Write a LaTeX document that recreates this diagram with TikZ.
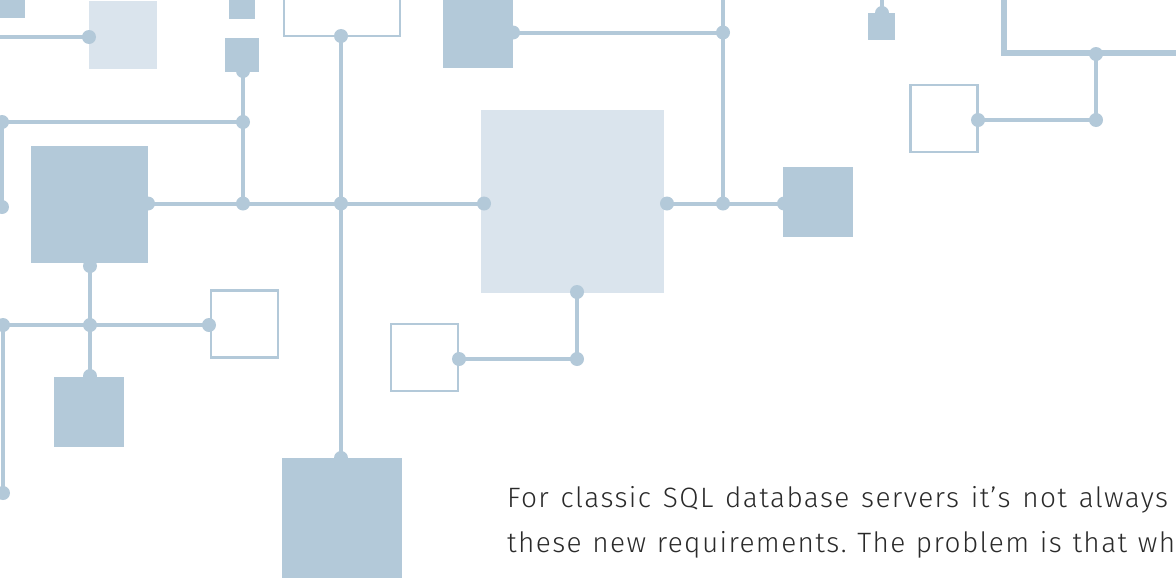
\documentclass[tikz,border=0pt]{standalone}
\usepackage{fontspec}
\newfontfamily\bodyfont{Fira Sans Light}[LetterSpace=5]
\definecolor{wire}{HTML}{B3C9D9}
\definecolor{pale}{HTML}{DAE4ED}
\definecolor{ink}{HTML}{2A2A2A}
\pgfdeclarelayer{wires}
\pgfsetlayers{wires,main}
\tikzset{
  solidbox/.style={rectangle, fill=wire, draw=none, inner sep=0pt, outer sep=0pt, minimum size=#1},
  palebox/.style={rectangle, fill=pale, draw=none, inner sep=0pt, outer sep=0pt, minimum size=#1},
  openbox/.style={rectangle, draw=wire, line width=2.5pt, inner sep=0pt, outer sep=0pt, minimum size=#1},
  heavybox/.style={rectangle, draw=wire, line width=6pt, inner sep=0pt, outer sep=0pt, minimum size=#1},
  wire/.style={draw=wire, line width=4pt},
  joint/.style={circle, fill=wire, draw=none, inner sep=0pt, minimum size=14pt},
  bodytext/.style={anchor=base west, inner sep=0pt, text=ink, font=\bodyfont\fontsize{28}{32}\selectfont\frenchspacing}
}
\begin{document}
\begin{tikzpicture}[x=1pt, y=-1pt]
\useasboundingbox (0,0) rectangle (1176,584);

% boxes
\node[solidbox=34pt] (s1) at (8,1) {};
\node[palebox=68pt] (s2) at (123,35) {};
\node[solidbox=26pt] (s3) at (242,6) {};
\node[solidbox=34pt] (s4) at (242,55) {};
\node[openbox=116pt] (s5) at (342,-22) {};
\node[solidbox=70pt] (s6) at (478,33) {};
\node[solidbox=117pt] (s7) at (89.5,204.5) {};
\node[openbox=67pt] (s8) at (244.5,324) {};
\node[solidbox=70pt] (s9) at (89,412) {};
\node[solidbox=120pt] (s10) at (342,518) {};
\node[openbox=67pt] (s11) at (424.5,357.5) {};
\node[palebox=183pt] (s12) at (572.5,201.5) {};
\node[solidbox=70pt] (s13) at (818,202) {};
\node[solidbox=27pt] (s14) at (881.5,26.5) {};
\node[openbox=67pt] (s15) at (944,118.5) {};
\node[heavybox=200pt] (s16) at (1103.5,-47) {};

% joints
\node[joint] (j1) at (89,37) {};
\node[joint] (j2) at (243,71) {};
\node[joint] (j3) at (243,122) {};
\node[joint] (j4) at (2,122) {};
\node[joint] (j5) at (2,207) {};
\node[joint] (j6) at (148,203.5) {};
\node[joint] (j7) at (243,203.5) {};
\node[joint] (j8) at (341,203.5) {};
\node[joint] (j9) at (484,203.5) {};
\node[joint] (j10) at (341,36) {};
\node[joint] (j11) at (341,458) {};
\node[joint] (j12) at (90,266) {};
\node[joint] (j13) at (90,325) {};
\node[joint] (j14) at (90,376) {};
\node[joint] (j15) at (3,325) {};
\node[joint] (j16) at (209,325) {};
\node[joint] (j17) at (3,493) {};
\node[joint] (j18) at (459,359) {};
\node[joint] (j19) at (577,359) {};
\node[joint] (j20) at (577,292) {};
\node[joint] (j21) at (667,203.5) {};
\node[joint] (j22) at (723,203.5) {};
\node[joint] (j23) at (784,203.5) {};
\node[joint] (j24) at (723,32.5) {};
\node[joint] (j25) at (513,32.5) {};
\node[joint] (j26) at (882,13) {};
\node[joint] (j27) at (1096,54) {};
\node[joint] (j28) at (1096,120) {};
\node[joint] (j29) at (978,120) {};

% free ends at the border
\coordinate (e1) at (-5,37);
\coordinate (e2) at (723,-5);
\coordinate (e3) at (882,-5);

% wires
\begin{pgfonlayer}{wires}
\draw[wire] (e1) -- (j1.center);
\draw[wire] (j2.center) -- (j3.center) -- (j7.center);
\draw[wire] (j4.center) -- (j3.center);
\draw[wire] (j4.center) -- (j5.center);
\draw[wire] (j6.center) -- (j7.center) -- (j8.center) -- (j9.center);
\draw[wire] (j10.center) -- (j8.center) -- (j11.center);
\draw[wire] (j12.center) -- (j13.center) -- (j14.center);
\draw[wire] (j15.center) -- (j13.center) -- (j16.center);
\draw[wire] (j15.center) -- (j17.center);
\draw[wire] (j18.center) -- (j19.center) -- (j20.center);
\draw[wire] (j21.center) -- (j22.center) -- (j23.center);
\draw[wire] (j22.center) -- (j24.center) -- (e2);
\draw[wire] (j25.center) -- (j24.center);
\draw[wire] (j26.center) -- (e3);
\draw[wire] (j27.center) -- (j28.center) -- (j29.center);
\end{pgfonlayer}

% text
\node[bodytext] (t1) at (507,507) {\makebox[661pt][s]{For classic SQL database servers it’s not always}};
\node[bodytext] (t2) at (507,552) {\makebox[668pt][s]{these new requirements. The problem is that wh}};
\end{tikzpicture}
\end{document}
